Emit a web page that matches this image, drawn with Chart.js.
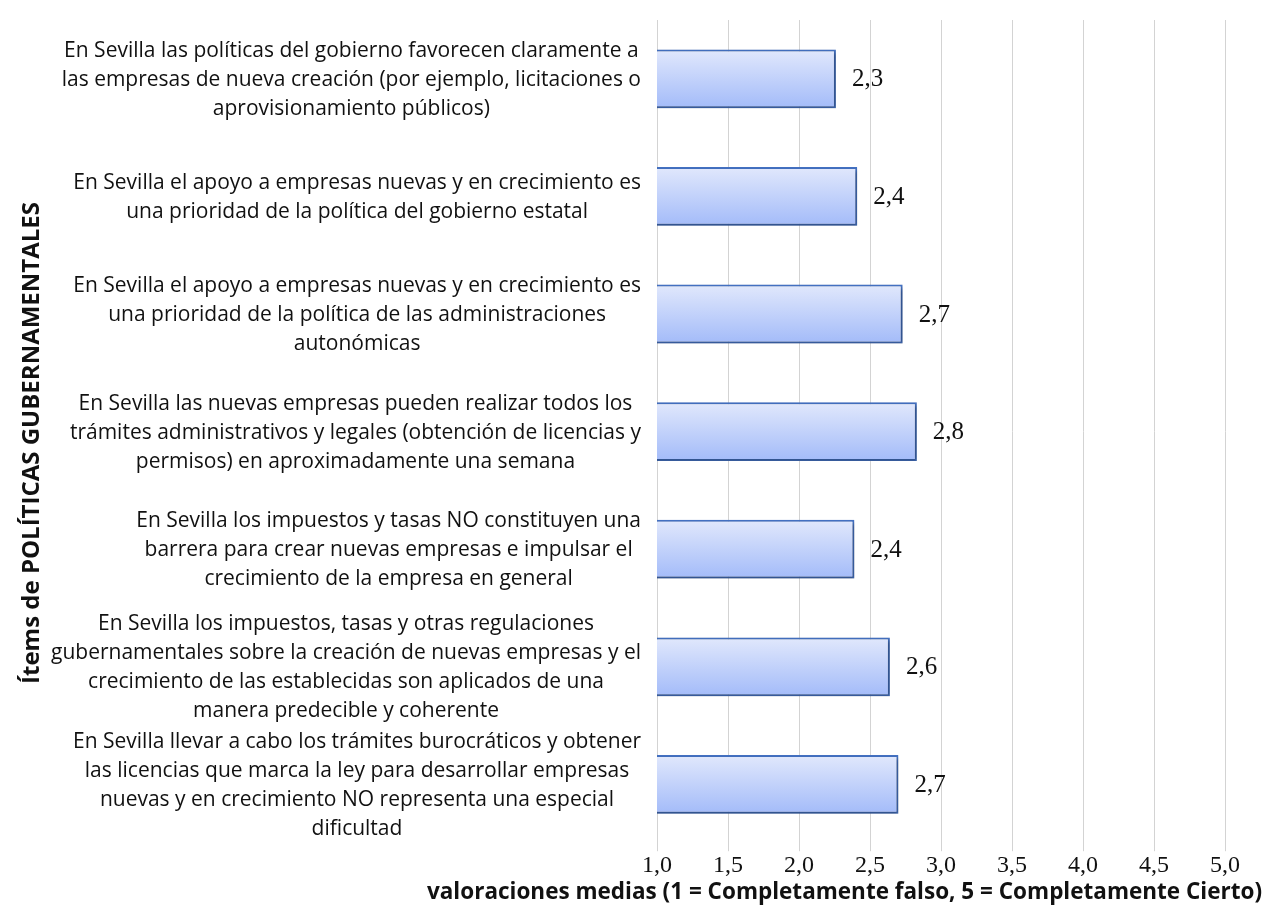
<!DOCTYPE html>
<html>
<head>
<meta charset="utf-8">
<script src="https://cdn.jsdelivr.net/npm/chart.js@4.4.1/dist/chart.umd.min.js"></script>
<style>
  html, body { margin: 0; padding: 0; background: #fff; }
  #wrap { width: 1268px; height: 922px; position: relative; }
</style>
</head>
<body>
<div id="wrap"><canvas id="grafico"></canvas></div>
<script>
// Datos
var categorias = [
    ['En Sevilla las políticas del gobierno favorecen claramente a', 'las empresas de nueva creación (por ejemplo, licitaciones o', 'aprovisionamiento públicos)'],
    ['En Sevilla el apoyo a empresas nuevas y en crecimiento es', 'una prioridad de la política del gobierno estatal'],
    ['En Sevilla el apoyo a empresas nuevas y en crecimiento es', 'una prioridad de la política de las administraciones', 'autonómicas'],
    ['En Sevilla las nuevas empresas pueden realizar todos los', 'trámites administrativos y legales (obtención de licencias y', 'permisos) en aproximadamente una semana'],
    ['En Sevilla los impuestos y tasas NO constituyen una', 'barrera para crear nuevas empresas e impulsar el', 'crecimiento de la empresa en general'],
    ['En Sevilla los impuestos, tasas y otras regulaciones', 'gubernamentales sobre la creación de nuevas empresas y el', 'crecimiento de las establecidas son aplicados de una', 'manera predecible y coherente'],
    ['En Sevilla llevar a cabo los trámites burocráticos y obtener', 'las licencias que marca la ley para desarrollar empresas', 'nuevas y en crecimiento NO representa una especial', 'dificultad']
];
var valores = [2.26, 2.41, 2.73, 2.83, 2.39, 2.64, 2.70];
var ejeXMin = 1;
var ejeXMax = 5;
var ejeXPaso = 0.5;
var tituloX = 'valoraciones medias (1 = Completamente falso, 5 = Completamente Cierto)';
var tituloY = 'Ítems de POLÍTICAS GUBERNAMENTALES';

var fuenteTexto = '"Open Sans", Lato, sans-serif';
var fuenteNumeros = '"Liberation Serif", "DejaVu Serif", serif';

function conComa(v, dec) {
    return Number(v).toFixed(dec).replace('.', ',');
}

// degradado vertical dentro de cada barra
function rellenoBarra(c) {
    var chart = c.chart;
    var area = chart.chartArea;
    if (!area || !chart.scales.y) {
        return '#c2d2fb';
    }
    var cy = chart.scales.y.getPixelForValue(c.dataIndex);
    var medio = (area.bottom - area.top) / categorias.length * 0.25;
    var g = chart.ctx.createLinearGradient(0, cy - medio, 0, cy + medio);
    g.addColorStop(0, '#e1e8fc');
    g.addColorStop(1, '#a3bbf9');
    return g;
}

// sombra de las barras
var sombraBarras = {
    id: 'sombraBarras',
    beforeDatasetDraw: function(chart) {
        var ctx = chart.ctx;
        ctx.save();
        ctx.shadowColor = 'rgba(0, 0, 0, 0.35)';
        ctx.shadowBlur = 4;
        ctx.shadowOffsetX = 2;
        ctx.shadowOffsetY = 2;
    },
    afterDatasetDraw: function(chart) {
        chart.ctx.restore();
    }
};

// Valores al final de cada barra
var etiquetasValor = {
    id: 'etiquetasValor',
    afterDatasetsDraw: function(chart) {
        var ctx = chart.ctx;
        ctx.save();
        ctx.font = '25px ' + fuenteNumeros;
        ctx.fillStyle = '#111';
        ctx.textAlign = 'left';
        ctx.textBaseline = 'middle';
        chart.getDatasetMeta(0).data.forEach(function(el, i) {
            ctx.fillText(conComa(valores[i], 1), el.x + 16, el.y + 1);
        });
        ctx.restore();
    }
};

// Textos de las categorías y títulos de los ejes
var textos = {
    id: 'textos',
    afterDraw: function(chart) {
        var ctx = chart.ctx;
        var escala = chart.scales.y;
        var derecha = chart.chartArea.left - 16;
        var alto = 29;
        ctx.save();
        ctx.font = '21px ' + fuenteTexto;
        ctx.fillStyle = '#111';
        ctx.textAlign = 'center';
        ctx.textBaseline = 'middle';
        categorias.forEach(function(lineas, i) {
            var ancho = 0;
            lineas.forEach(function(l) { ancho = Math.max(ancho, ctx.measureText(l).width); });
            var cx = derecha - ancho / 2;
            var cy = escala.getPixelForValue(i) + 1;
            var y0 = cy - (lineas.length - 1) * alto / 2;
            lineas.forEach(function(l, k) { ctx.fillText(l, cx, y0 + k * alto); });
        });
        // título del eje X
        ctx.font = 'bold 22.5px ' + fuenteTexto;
        ctx.textAlign = 'right';
        ctx.fillText(tituloX, chart.width - 6, 893);
        // título del eje Y
        ctx.font = 'bold 24px ' + fuenteTexto;
        ctx.textAlign = 'center';
        ctx.translate(32, 443);
        ctx.rotate(-Math.PI / 2);
        ctx.fillText(tituloY, 0, 0);
        ctx.restore();
    }
};

new Chart(document.getElementById('grafico'), {
    type: 'bar',
    data: {
        labels: categorias,
        datasets: [{
            data: valores,
            backgroundColor: rellenoBarra,
            borderColor: '#4472c4',
            borderWidth: 2,
            borderSkipped: false,
            barPercentage: 0.5,
            categoryPercentage: 1
        }]
    },
    options: {
        indexAxis: 'y',
        responsive: true,
        maintainAspectRatio: false,
        animation: false,
        layout: { padding: { left: 0, right: 43, top: 20, bottom: 42 } },
        plugins: {
            legend: { display: false },
            tooltip: { enabled: false }
        },
        scales: {
            x: {
                min: ejeXMin,
                max: ejeXMax,
                ticks: {
                    stepSize: ejeXPaso,
                    padding: 0,
                    color: '#111',
                    font: { family: fuenteNumeros, size: 24 },
                    callback: function(v) { return conComa(v, 1); }
                },
                grid: { color: '#d3d3d3', lineWidth: 1, tickLength: 8 },
                border: { display: false }
            },
            y: {
                ticks: { display: false },
                grid: { display: false },
                border: { display: false },
                afterFit: function(scale) { scale.width = 657; }
            }
        }
    },
    plugins: [sombraBarras, etiquetasValor, textos]
});
</script>
</body>
</html>
